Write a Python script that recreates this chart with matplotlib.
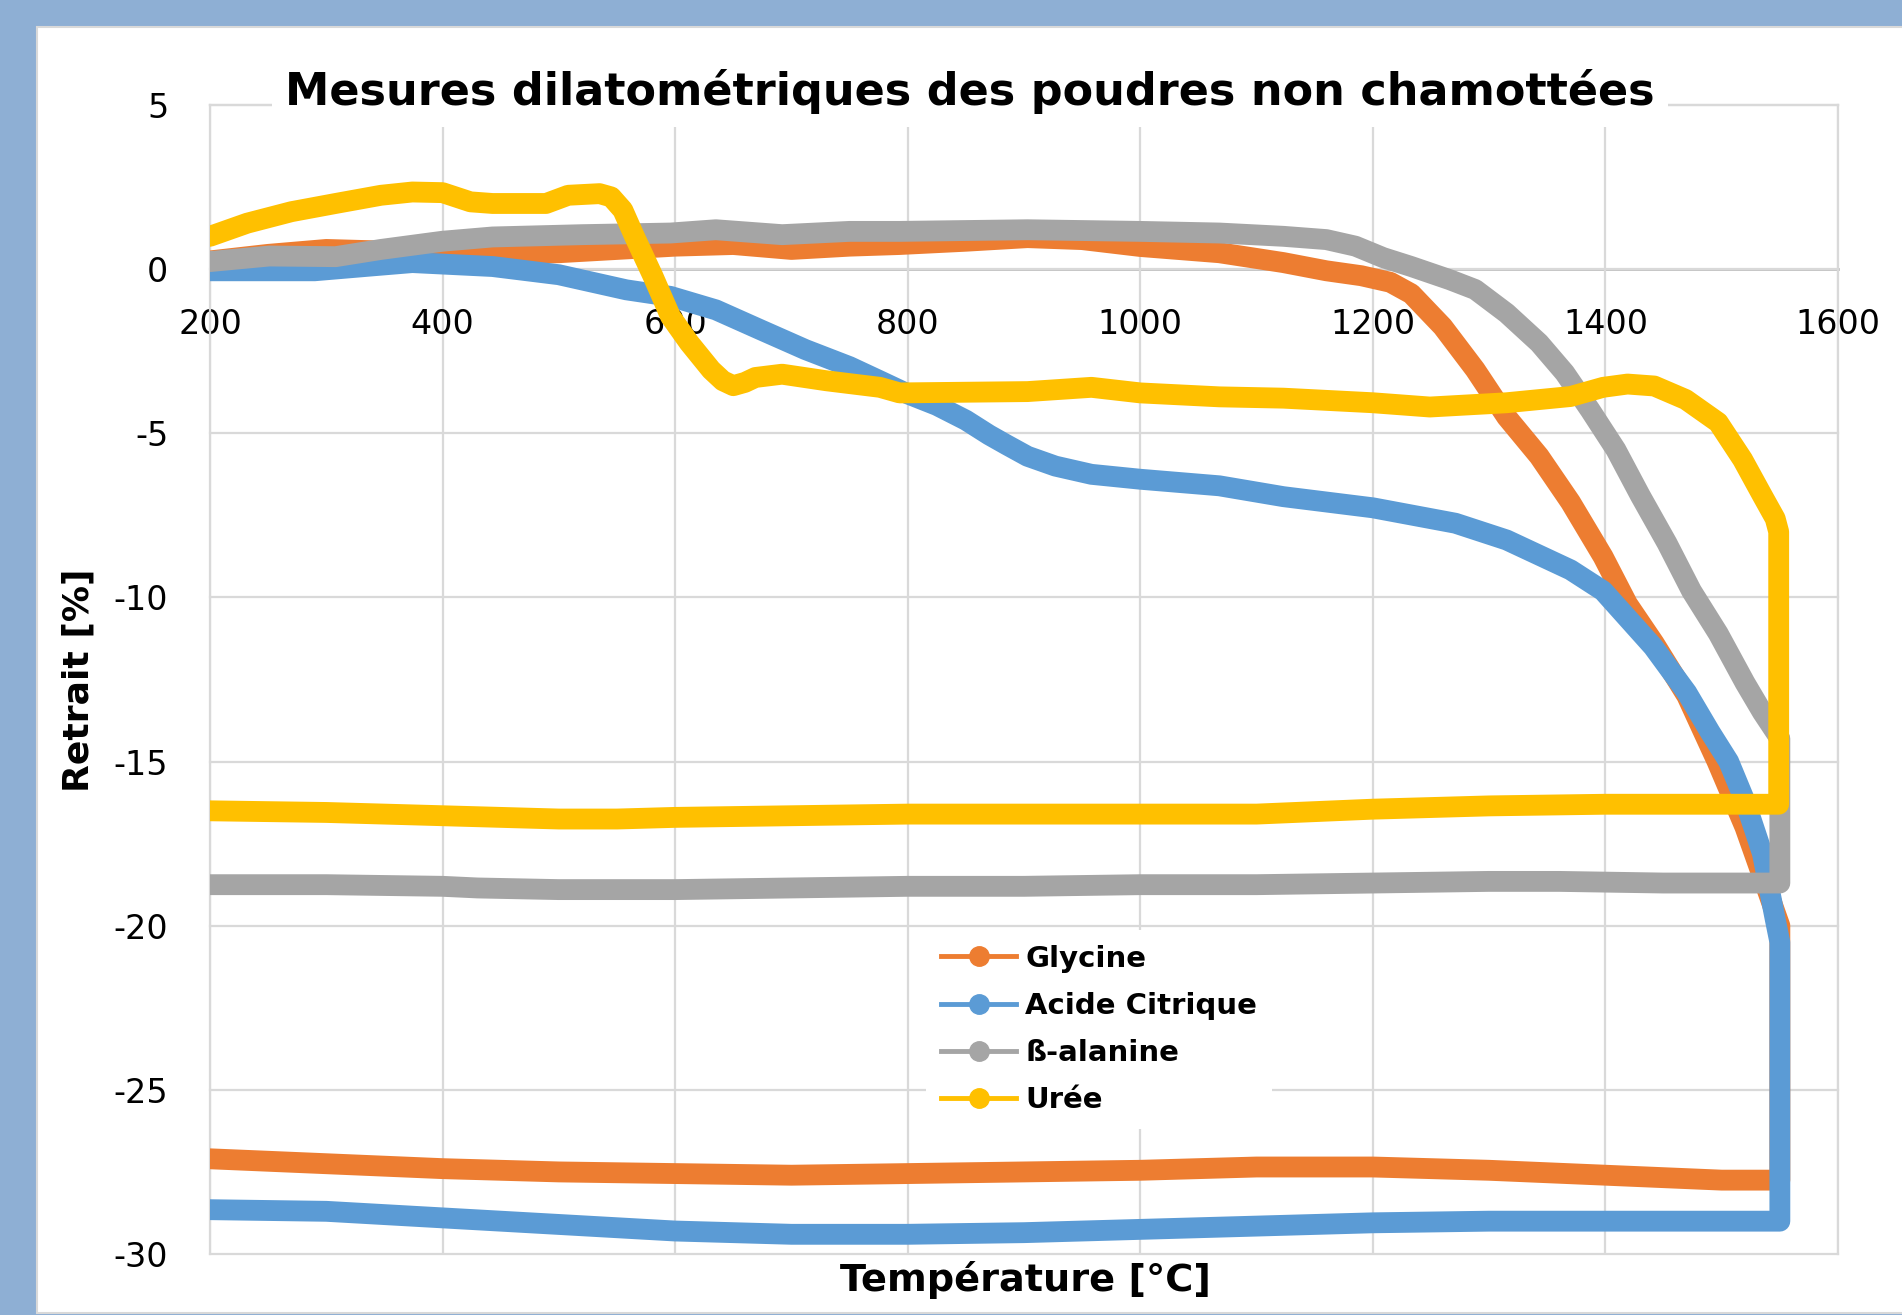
import matplotlib.pyplot as plt
from matplotlib.patches import Rectangle
from matplotlib.lines import Line2D

plt.rcParams['axes.unicode_minus'] = False

# --- data (heating curve, then drop at end, then cooling back) ---
series = ['Glycine', 'Acide Citrique', 'ß-alanine', 'Urée']
colors = ['#ED7D31', '#5B9BD5', '#A5A5A5', '#FFC000']

gly_T = [200, 250, 300, 350, 400, 450, 500, 550, 600, 650, 700, 750, 793, 850, 903, 950,
         1000, 1068, 1123, 1160, 1190, 1215, 1233, 1260, 1288, 1315, 1343, 1370, 1398, 1419, 1442,
         1470, 1496, 1520, 1545, 1550,
         1550, 1500, 1400, 1300, 1200, 1100, 1000, 900, 800, 700, 600, 500, 400, 300, 200]
gly_v = [0.25, 0.45, 0.6, 0.55, 0.4, 0.45, 0.5, 0.6, 0.7, 0.75, 0.6, 0.7, 0.75, 0.85, 0.96, 0.9,
         0.69, 0.5, 0.2, -0.05, -0.2, -0.4, -0.75, -1.75, -3.06, -4.5, -5.7, -7.1, -8.76, -10.2, -11.4,
         -13.0, -15.0, -17.0, -19.5, -20.0,
         -27.75, -27.75, -27.6, -27.45, -27.35, -27.35, -27.45, -27.5, -27.55, -27.6, -27.55, -27.5, -27.4, -27.25, -27.1]

ac_T = [200, 250, 290, 340, 374, 443, 500, 558, 596, 635, 673, 712, 750, 776, 800, 825, 850, 870,
        885, 903, 927, 958, 1000, 1068, 1123, 1200, 1271, 1315, 1370, 1398, 1441, 1470, 1490, 1506,
        1520, 1535, 1546, 1550,
        1550, 1500, 1400, 1300, 1200, 1100, 1000, 900, 800, 700, 600, 500, 400, 300, 200]
ac_v = [-0.05, -0.05, -0.05, 0.1, 0.2, 0.08, -0.17, -0.63, -0.83, -1.24, -1.84, -2.45, -2.97, -3.4, -3.8, -4.15, -4.6, -5.05,
        -5.35, -5.7, -6.0, -6.25, -6.4, -6.6, -6.93, -7.27, -7.74, -8.25, -9.16, -9.8, -11.5, -12.9, -14.1, -15.0,
        -16.2, -17.8, -19.8, -20.5,
        -29.0, -29.0, -29.0, -29.0, -29.05, -29.15, -29.25, -29.35, -29.4, -29.4, -29.3, -29.1, -28.9, -28.7, -28.65]

ala_T = [200, 251, 308, 347, 400, 443, 520, 596, 635, 692, 750, 793, 903, 1000, 1068, 1123,
         1160, 1185, 1209, 1233, 1266, 1288, 1315, 1343, 1365, 1387, 1409, 1430, 1453, 1474, 1497,
         1520, 1535, 1550,
         1550, 1450, 1360, 1300, 1200, 1100, 1000, 900, 800, 700, 600, 500, 430, 400, 300, 200]
ala_v = [0.23, 0.4, 0.38, 0.6, 0.85, 0.98, 1.05, 1.1, 1.2, 1.05, 1.15, 1.15, 1.2, 1.15, 1.1, 1.0,
         0.9, 0.7, 0.35, 0.08, -0.32, -0.62, -1.34, -2.25, -3.16, -4.3, -5.5, -6.9, -8.35, -9.8, -11.1,
         -12.6, -13.5, -14.3,
         -18.7, -18.7, -18.65, -18.65, -18.7, -18.75, -18.75, -18.8, -18.8, -18.85, -18.9, -18.9, -18.85, -18.8, -18.75, -18.75]

ur_T = [200, 232, 270, 308, 347, 374, 400, 424, 443, 489, 508, 535, 545, 555, 565, 581, 596, 612,
        631, 641, 650, 660, 669, 692, 730, 776, 793, 903, 958, 1000, 1068, 1123, 1200, 1249, 1315, 1370,
        1398, 1419, 1442, 1469, 1497, 1518, 1535, 1546, 1549,
        1549, 1500, 1400, 1300, 1200, 1100, 1000, 900, 800, 700, 600, 550, 500, 450, 400, 300, 200]
ur_v = [1.0, 1.4, 1.75, 2.0, 2.25, 2.35, 2.33, 2.05, 2.0, 2.0, 2.25, 2.3, 2.2, 1.8, 1.0, -0.22, -1.44, -2.24,
        -3.07, -3.4, -3.55, -3.45, -3.3, -3.2, -3.4, -3.6, -3.77, -3.73, -3.6, -3.77, -3.89, -3.93, -4.07, -4.2, -4.07, -3.88,
        -3.6, -3.5, -3.56, -3.97, -4.67, -5.8, -6.9, -7.6, -8.0,
        -16.3, -16.3, -16.3, -16.35, -16.45, -16.6, -16.6, -16.6, -16.6, -16.65, -16.7, -16.75, -16.75, -16.7, -16.65, -16.55, -16.5]

curves = [(gly_T, gly_v), (ac_T, ac_v), (ala_T, ala_v), (ur_T, ur_v)]

x_ticks = [200, 400, 600, 800, 1000, 1200, 1400, 1600]
y_ticks = [5, 0, -5, -10, -15, -20, -25, -30]

title = 'Mesures dilatométriques des poudres non chamottées'
xlabel = 'Température [°C]'
ylabel = 'Retrait [%]'

W, H = 1902, 1315
fig = plt.figure(figsize=(W / 100, H / 100), dpi=100, facecolor='#8EAFD4')
fig.add_artist(Rectangle((37 / W, (H - 1313) / H), 1.0, (1313 - 27) / H,
                         transform=fig.transFigure, facecolor='white',
                         edgecolor='#d9d9d9', lw=1.5, zorder=-1))

ax = fig.add_axes([210 / W, (H - 1254) / H, 1628 / W, 1149 / H])
ax.set_facecolor('white')

for (T, v), c in zip(curves, colors):
    ax.plot(T, v, color=c, lw=15, solid_capstyle='round', solid_joinstyle='round', zorder=3)

ax.set_xlim(200, 1600)
ax.set_ylim(-30, 5)
ax.set_xticks(x_ticks)
ax.set_yticks(y_ticks)
ax.grid(True, color='#d9d9d9', lw=1.6, zorder=0)
for gl in ax.get_xgridlines() + ax.get_ygridlines():
    gl.set_clip_on(False)

for s in ['left', 'right', 'top']:
    ax.spines[s].set_color('#d9d9d9')
    ax.spines[s].set_linewidth(1.6)
ax.spines['bottom'].set_position(('data', 0))
ax.spines['bottom'].set_color('#bfbfbf')
ax.spines['bottom'].set_linewidth(2)
ax.spines['bottom'].set_zorder(1)

ax.tick_params(axis='both', length=0, labelsize=24)
ax.tick_params(axis='x', pad=28)
ax.tick_params(axis='y', pad=30)

fig.text(970 / W, 1 - 91 / H, title, ha='center', va='center', fontsize=32, fontweight='bold',
         bbox=dict(facecolor='white', edgecolor='none', boxstyle='square,pad=0.3'), zorder=5)
fig.text(1025 / W, 1 - 1280 / H, xlabel, ha='center', va='center', fontsize=27.5, fontweight='bold')
fig.text(79 / W, 1 - 680 / H, ylabel, ha='center', va='center', fontsize=26, fontweight='bold',
         rotation=90)

handles = [Line2D([], [], color=c, lw=3.5, marker='o', markersize=14) for c in colors]
leg = ax.legend(handles, series, loc='upper left', bbox_to_anchor=(926 / W, 1 - 930 / H),
                bbox_transform=fig.transFigure, borderaxespad=0, borderpad=0.5,
                frameon=True, fancybox=False, framealpha=1, edgecolor='none',
                prop={'weight': 'bold', 'size': 21}, labelspacing=0.66,
                handlelength=2.6, handletextpad=0.3)
leg.set_zorder(6)

fig.savefig('out.png', dpi=100, facecolor=fig.get_facecolor())
